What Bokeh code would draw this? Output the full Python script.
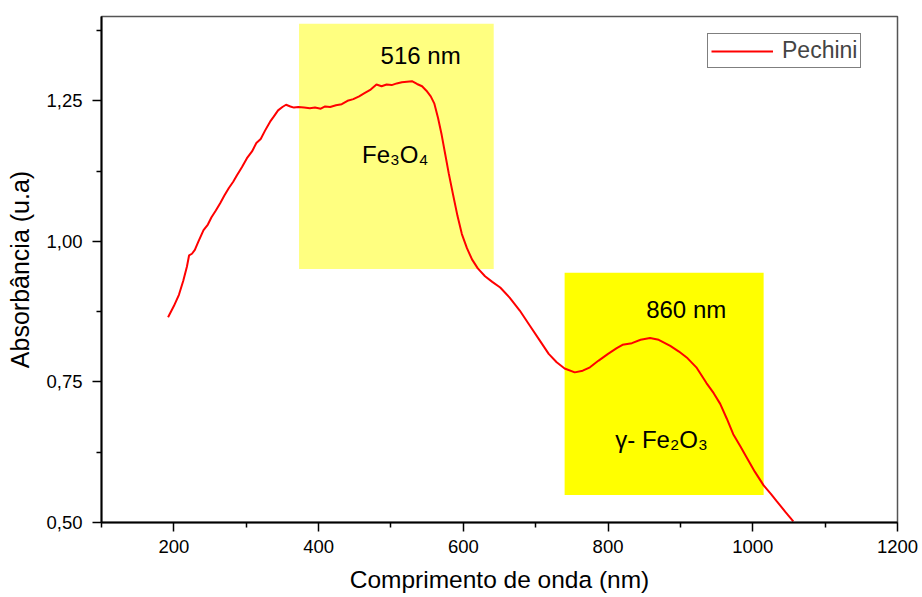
from bokeh.plotting import figure
from bokeh.models import FixedTicker, CustomJSTickFormatter, Legend, LegendItem
from bokeh.core.properties import value
from bokeh.embed import file_html
from bokeh.resources import INLINE

# --- data ---
wavelength = [192, 200, 207, 213, 218, 221, 225, 229, 234, 241, 247, 252, 258, 264, 270, 276, 282, 287,
              294, 301, 308, 314, 320, 326, 333, 338, 344, 350, 355, 361, 366, 372, 380, 388, 395, 403,
              409, 416, 424, 432, 440, 448, 456, 464, 472, 480, 487, 494, 501, 508, 515, 522, 529, 536,
              543, 549, 555, 560, 565, 570, 575, 580, 586, 592, 598, 605, 612, 620, 630, 640, 651, 664,
              678, 692, 706, 718, 729, 740, 754, 765, 775, 787, 800, 812, 820, 833, 845, 858, 870, 886,
              898, 910, 922, 936, 946, 955, 964, 973, 983, 991, 1003, 1015, 1025, 1033, 1045, 1056]
absorbance = [0.865, 0.885, 0.905, 0.930, 0.955, 0.975, 0.978, 0.985, 1.000, 1.020, 1.030, 1.043, 1.055,
              1.068, 1.082, 1.095, 1.106, 1.117, 1.132, 1.148, 1.160, 1.175, 1.182, 1.197, 1.213, 1.222,
              1.233, 1.239, 1.243, 1.240, 1.238, 1.239, 1.238, 1.237, 1.238, 1.236, 1.240, 1.239, 1.242,
              1.244, 1.250, 1.253, 1.258, 1.264, 1.270, 1.279, 1.276, 1.279, 1.278, 1.281, 1.283, 1.284,
              1.285, 1.280, 1.276, 1.268, 1.258, 1.245, 1.220, 1.190, 1.155, 1.120, 1.082, 1.045, 1.013,
              0.988, 0.968, 0.952, 0.938, 0.928, 0.918, 0.900, 0.877, 0.850, 0.823, 0.800, 0.785, 0.774,
              0.767, 0.770, 0.776, 0.788, 0.800, 0.810, 0.816, 0.819, 0.825, 0.828, 0.825, 0.814, 0.804,
              0.792, 0.776, 0.748, 0.730, 0.711, 0.685, 0.657, 0.635, 0.617, 0.590, 0.566, 0.551, 0.538,
              0.519, 0.502]

box_left = [373, 740]
box_right = [642, 1015]
box_bottom = [0.951, 0.549]
box_top = [1.387, 0.944]
box_colors = ["#FFFF80", "#FFFF00"]

peak_x = [541, 908]
peak_y = [1.330, 0.878]
peak_text = ["516 nm", "860 nm"]

phase_x = [460, 810]
phase_y = [1.154, 0.648]
phase_text = ["Fe\u2083O\u2084", "\u03b3- Fe\u2082O\u2083"]

x_major = [200, 400, 600, 800, 1000, 1200]
x_minor = [100, 300, 500, 700, 900, 1100]
y_major = [0.50, 0.75, 1.00, 1.25]
y_minor = [0.625, 0.875, 1.125, 1.375]

FONT = "Liberation Sans"

p = figure(width=922, height=597, x_range=(100, 1200), y_range=(0.5, 1.4),
           output_backend="svg", toolbar_location=None,
           min_border_left=101, min_border_right=25, min_border_top=16, min_border_bottom=75)
p.xgrid.visible = False
p.ygrid.visible = False
p.outline_line_color = "#555555"
p.outline_line_width = 1.5
p.background_fill_color = "white"
p.border_fill_color = "white"

p.quad(left=box_left, right=box_right, bottom=box_bottom, top=box_top,
       fill_color=box_colors, line_color=None)

line = p.line(wavelength, absorbance, line_color="#FF0000", line_width=2)

p.text(x=peak_x, y=peak_y, text=peak_text, text_font=value(FONT), text_font_size=value("24px"),
       text_align="center", text_baseline="alphabetic", text_color="black")
p.text(x=phase_x, y=phase_y, text=phase_text, text_font=value(FONT), text_font_size=value("24px"),
       text_align="left", text_baseline="alphabetic", text_color="black")

for ax in (p.xaxis[0], p.yaxis[0]):
    ax.axis_line_color = "black"
    ax.axis_line_width = 2
    ax.major_tick_line_color = "black"
    ax.major_tick_line_width = 1.5
    ax.minor_tick_line_color = "black"
    ax.minor_tick_line_width = 1.5
    ax.major_tick_in = 0
    ax.major_tick_out = 9
    ax.minor_tick_in = 0
    ax.minor_tick_out = 5
    ax.major_label_text_font = FONT
    ax.major_label_text_font_size = "18.5px"
    ax.major_label_text_color = "black"
    ax.axis_label_text_font = FONT
    ax.axis_label_text_font_style = "normal"
    ax.axis_label_text_color = "black"

p.xaxis.axis_label_text_font_size = "24.5px"
p.yaxis.axis_label_text_font_size = "25px"
p.xaxis.ticker = FixedTicker(ticks=x_major, minor_ticks=x_minor)
p.yaxis.ticker = FixedTicker(ticks=y_major, minor_ticks=y_minor)
p.yaxis.formatter = CustomJSTickFormatter(code="return tick.toFixed(2).replace('.', ',');")
p.xaxis.axis_label = "Comprimento de onda (nm)"
p.yaxis.axis_label = "Absorbância (u.a)"
p.xaxis.major_label_standoff = 8
p.xaxis.axis_label_standoff = 10
p.yaxis.major_label_standoff = 10
p.yaxis.axis_label_standoff = 9

legend = Legend(items=[LegendItem(label="Pechini", renderers=[line])], location=(606, 454))
legend.label_text_font = FONT
legend.label_text_font_size = "23px"
legend.glyph_width = 62
legend.label_standoff = 9
legend.padding = 3
legend.spacing = 0
legend.margin = 0
legend.border_line_color = "black"
legend.border_line_width = 1
legend.background_fill_color = "white"
legend.background_fill_alpha = 1
p.add_layout(legend)

open("out.html", "w").write(file_html(p, INLINE))
